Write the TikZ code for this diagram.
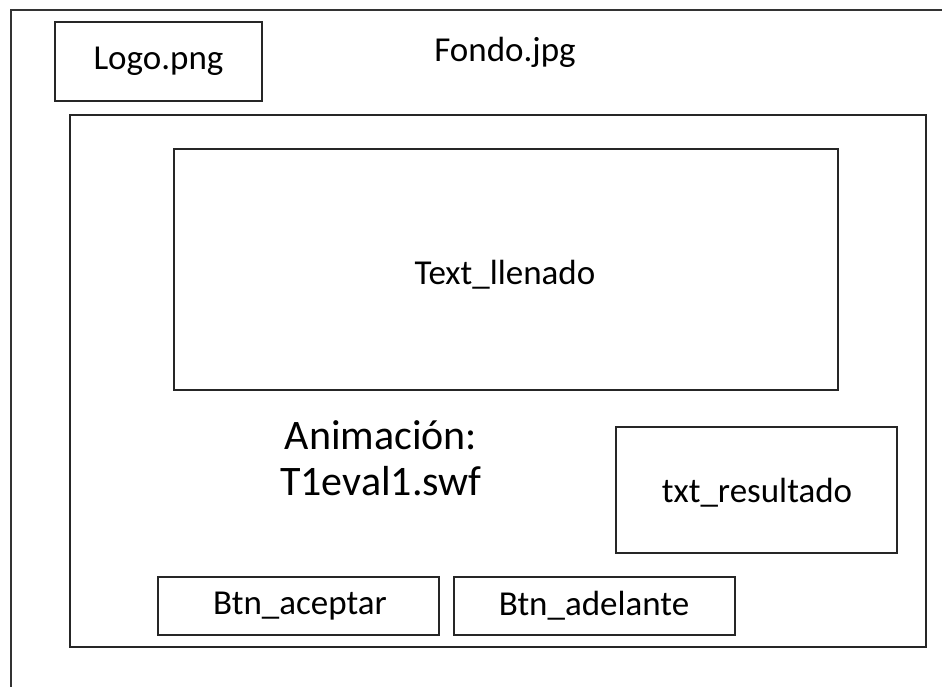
\documentclass[tikz,border=0pt]{standalone}
\usepackage{fontspec}
\setmainfont{Carlito}
\begin{document}
\begin{tikzpicture}[x=1pt,y=-1pt,
  box/.style={draw=black!85,line width=1.5pt,rectangle,inner sep=0pt},
  lbl/.style={inner sep=0pt,font=\fontsize{35}{40}\selectfont},
  big/.style={inner sep=0pt,align=center,font=\fontsize{42}{46}\selectfont}]
\useasboundingbox (0,0) rectangle (942,687);
\clip (0,0) rectangle (942,687);
\draw[line width=2pt,draw=black!80] (11,700) -- (11,10) -- (960,10);
% boxes
\node[box,minimum width=207pt,minimum height=79pt] (logo) at (158.5,61.5) {};
\node[box,minimum width=856pt,minimum height=532pt] (main) at (498,381) {};
\node[box,minimum width=664pt,minimum height=241pt] (llenado) at (506,269.5) {};
\node[box,minimum width=281pt,minimum height=126pt] (res) at (756.5,490) {};
\node[box,minimum width=281pt,minimum height=58pt] (acep) at (298.5,606) {};
\node[box,minimum width=281pt,minimum height=58pt] (adel) at (594.5,606) {};
% labels
\node[lbl] (tlogo) at (logo.center) {Logo.png};
\node[lbl] (tfondo) at (505,52) {Fondo.jpg};
\node[lbl] (tllen) at (505,275) {Text\_llenado};
\node[lbl] (tres) at (757,493) {txt\_resultado};
\node[lbl] (tacep) at (300,606) {Btn\_aceptar};
\node[lbl] (tadel) at (594,606) {Btn\_adelante};
\node[big] (tanim) at (381,458) {Animación:\\T1eval1.swf};
\end{tikzpicture}
\end{document}
